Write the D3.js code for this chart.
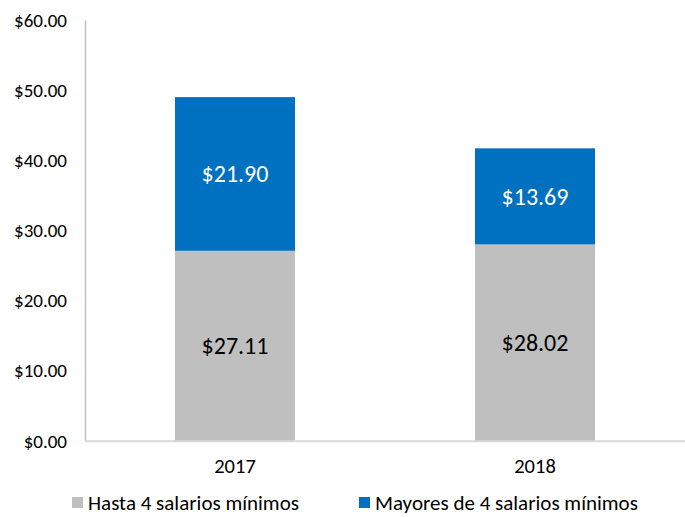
<!DOCTYPE html>
<html>
<head>
<meta charset="utf-8">
<script src="https://cdnjs.cloudflare.com/ajax/libs/d3/7.8.5/d3.min.js"></script>
<style>
  body { margin: 0; background: #fff; }
  text { font-family: Carlito, "Open Sans", "Noto Sans", sans-serif; }
</style>
</head>
<body>
<div id="chart"></div>
<script>
// data
var years = ["2017", "2018"]
var hasta4 = [27.11, 28.02]
var mayores4 = [21.90, 13.69]
var seriesNames = ["Hasta 4 salarios mínimos", "Mayores de 4 salarios mínimos"]
var yTicks = [0, 10, 20, 30, 40, 50, 60]

var width = 685, height = 517
var colors = ["#bfbfbf", "#0070c0"]
var labelColors = ["#000000", "#ffffff"]

var svg = d3.select("#chart").append("svg")
    .attr("width", width)
    .attr("height", height)

var x = d3.scaleBand().domain(years).range([85, 685]).padding(0)
var y = d3.scaleLinear().domain([0, 60]).range([441, 20])

var fmt = function(v) { return "$" + d3.format(".2f")(v) }

// y axis
var yAxis = svg.append("g")
    .attr("transform", "translate(85,0)")
    .call(d3.axisLeft(y).tickValues(yTicks).tickFormat(fmt).tickSize(0).tickPadding(18))
yAxis.select(".domain").attr("stroke", "#bfbfbf").attr("stroke-width", 1.5)
yAxis.selectAll("text").attr("font-size", "19px").attr("fill", "#000")

// x axis
var xAxis = svg.append("g")
    .attr("transform", "translate(0,441)")
    .call(d3.axisBottom(x).tickSize(0).tickPadding(17))
xAxis.select(".domain").attr("stroke", "#d9d9d9").attr("stroke-width", 1.5)
xAxis.selectAll("text").attr("font-size", "20.5px").attr("fill", "#000")

// stack
var rows = years.map(function(yr, i) { return { year: yr, a: hasta4[i], b: mayores4[i] } })
var stacked = d3.stack().keys(["a", "b"])(rows)

var barW = x.bandwidth() * 0.4

stacked.forEach(function(layer, li) {
  var g = svg.append("g")
  g.selectAll("rect")
    .data(layer)
    .enter()
    .append("rect")
      .attr("x", function(d) { return x(d.data.year) + (x.bandwidth() - barW) / 2 })
      .attr("width", barW)
      .attr("y", function(d) { return y(d[1]) })
      .attr("height", function(d) { return y(d[0]) - y(d[1]) })
      .attr("fill", colors[li])
  g.selectAll("text")
    .data(layer)
    .enter()
    .append("text")
      .attr("x", function(d) { return x(d.data.year) + x.bandwidth() / 2 })
      .attr("y", function(d) { return (y(d[0]) + y(d[1])) / 2 })
      .attr("dy", "0.35em")
      .attr("text-anchor", "middle")
      .attr("font-size", "24px")
      .attr("fill", labelColors[li])
      .text(function(d) { return fmt(d[1] - d[0]) })
})

// redraw the baseline on top of bars
svg.append("line")
    .attr("x1", 85).attr("x2", 685)
    .attr("y1", y(0)).attr("y2", y(0))
    .attr("stroke", "#d9d9d9").attr("stroke-width", 1.5)

// legend
var legendX = [72, 359]
var legend = svg.selectAll(".legend")
  .data(seriesNames)
  .enter()
  .append("g")
    .attr("transform", function(d, i) { return "translate(" + legendX[i] + ",497)" })
legend.append("rect")
    .attr("width", 11).attr("height", 11)
    .attr("fill", function(d, i) { return colors[i] })
legend.append("text")
    .attr("x", 16).attr("y", 6)
    .attr("dy", "0.35em")
    .attr("font-size", "21px")
    .text(function(d) { return d })
</script>
</body>
</html>
